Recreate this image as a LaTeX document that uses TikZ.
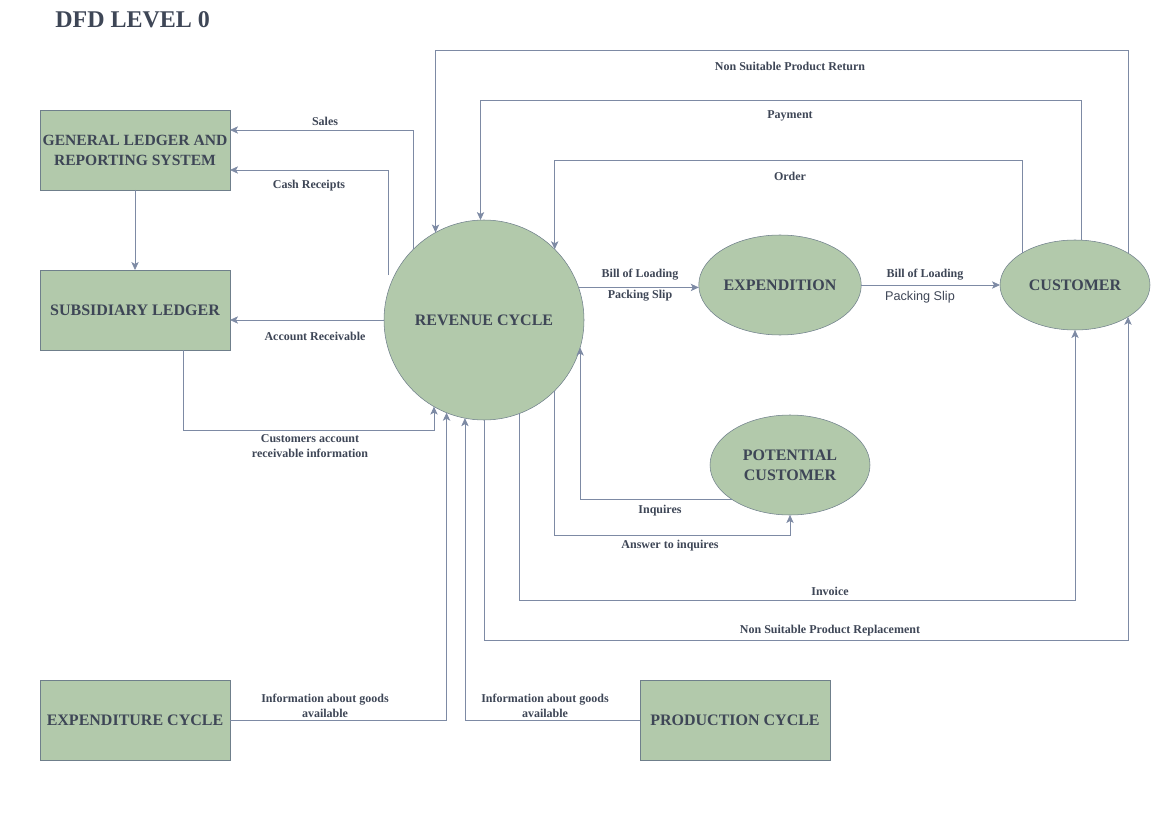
\documentclass[tikz,border=0pt]{standalone}
\usepackage{fontspec}
\setmainfont{Liberation Serif}
\newfontfamily\plainsans{Liberation Sans}
\usetikzlibrary{shapes.geometric,arrows.meta,calc}

\definecolor{dfdfill}{HTML}{B2C9AB}
\definecolor{dfdborder}{HTML}{6F7F8B}
\definecolor{dfdline}{HTML}{7D8AA4}
\definecolor{dfdtext}{HTML}{3E4656}

\tikzset{
  extentity/.style={draw=dfdborder, fill=dfdfill, minimum width=142.5pt, minimum height=60pt,
    inner sep=0.5pt, outer sep=0pt, text=dfdtext, align=center,
    font=\bfseries\fontsize{12}{15}\selectfont},
  bubble/.style={ellipse, draw=dfdborder, fill=dfdfill, inner sep=0.75pt, outer sep=0pt,
    text=dfdtext, align=center, font=\bfseries\fontsize{12}{15}\selectfont},
  dataflow/.style={draw=dfdline, line width=0.6pt, -{Stealth[length=6pt,width=5.5pt,inset=1.5pt]}},
  flowtext/.style={inner sep=0.75pt, text=dfdtext, align=center,
    font=\bfseries\fontsize{9}{11.5}\selectfont}
}

\begin{document}
\begin{tikzpicture}[x=0.75pt,y=0.75pt,yscale=-1,xscale=1]
\useasboundingbox (0,0) rectangle (1169,827);

% Title
\node (title) [anchor=west, inner sep=0.75pt, text=dfdtext, font=\bfseries\fontsize{18}{21}\selectfont] at (54,20) {DFD LEVEL 0};

% External entities
\node (ledger) [extentity, font=\bfseries\fontsize{11.7}{15}\selectfont] at (135,150) {GENERAL LEDGER AND\\REPORTING SYSTEM};
\node (subled) [extentity] at (135,310) {SUBSIDIARY LEDGER};
\node (expcyc) [extentity] at (135,720) {EXPENDITURE CYCLE};
\node (prodcyc) [extentity] at (735,720) {PRODUCTION CYCLE};

% Processes
\node (revenue) [circle, draw=dfdborder, fill=dfdfill, minimum size=150pt, inner sep=0.75pt, outer sep=0pt,
  text=dfdtext, font=\bfseries\fontsize{12}{15}\selectfont] at (484,320) {REVENUE CYCLE};
\node (expend) [bubble, minimum width=120pt, minimum height=75pt] at (780,285) {EXPENDITION};
\node (customer) [bubble, minimum width=112.5pt, minimum height=67.5pt] at (1075,285) {CUSTOMER};
\node (potential) [bubble, minimum width=120pt, minimum height=75pt] at (790,465) {POTENTIAL\\CUSTOMER};

% Rows of the bent flows
\coordinate (returnrow) at (0,50);
\coordinate (payrow) at (0,100);
\coordinate (salesrow) at (0,130);
\coordinate (orderrow) at (0,160);
\coordinate (cashrow) at (0,170);
\coordinate (cashtail) at (388,275);
\coordinate (acctrow) at (0,430);
\coordinate (answerrow) at (0,535);
\coordinate (invoicerow) at (0,600);
\coordinate (replacerow) at (0,640);

% Flows to the left
\draw [dataflow] (revenue.135) |- (ledger.east |- salesrow);
\draw [dataflow] (cashtail) |- (ledger.east |- cashrow);
\draw [dataflow] (revenue.180) -- (revenue.180 -| subled.east);
\draw [dataflow] (ledger.south) -- (subled.north);
\draw [dataflow] ($(subled.south)+(48,0)$) |- (revenue.240 |- acctrow) -- (revenue.240);
\draw [dataflow] (expcyc.east) -| (revenue.248);
\draw [dataflow] (prodcyc.west) -| (revenue.259);

% Flows from the customer
\draw [dataflow] (customer.31) -- (customer.31 |- returnrow) -| (revenue.119);
\draw [dataflow] (customer.82) -- (customer.82 |- payrow) -| (revenue.92);
\draw [dataflow] (customer.149) -- (customer.149 |- orderrow) -| (revenue.45);

% Flows to the right
\draw [dataflow] (revenue.19) -- (revenue.19 -| expend.west);
\draw [dataflow] (expend.east) -- (customer.west);
\draw [dataflow] (potential.211) -| (revenue.344);
\draw [dataflow] (revenue.315) -- (revenue.315 |- answerrow) -| (potential.south);
\draw [dataflow] (revenue.291) -- (revenue.291 |- invoicerow) -| (customer.south);
\draw [dataflow] (revenue.south) -- (revenue.south |- replacerow) -| (customer.329);

% Text Node
\node (salestext) [flowtext] at (325,121) {Sales};
\node (cashtext) [flowtext] at (309,186) {Cash Receipts};
\node (accttext) [flowtext] at (315,336) {Account Receivable};
\node (infotext) [flowtext] at (310,446) {Customers account\\receivable information};
\node (returntext) [flowtext] at (790,66) {Non Suitable Product Return};
\node (paytext) [flowtext] at (790,116) {Payment};
\node (ordertext) [flowtext] at (790,176) {Order};
\node (billtext) [flowtext] at (640,275) {Bill of Loading};
\node (sliptext) [flowtext] at (640,296) {Packing Slip};
\node (billtextb) [flowtext] at (925,275) {Bill of Loading};
\node (sliptextb) [inner sep=0.75pt, text=dfdtext, font=\plainsans\fontsize{9.5}{11}\selectfont] at (920,297) {Packing Slip};
\node (inqtext) [flowtext] at (660,511) {Inquires};
\node (answertext) [flowtext] at (670,546) {Answer to inquires};
\node (invoicetext) [flowtext] at (830,591) {Invoice};
\node (replacetext) [flowtext] at (830,631) {Non Suitable Product Replacement};
\node (goodstext) [flowtext] at (325,706) {Information about goods\\available};
\node (goodstextb) [flowtext] at (545,706) {Information about goods\\available};

\end{tikzpicture}
\end{document}
